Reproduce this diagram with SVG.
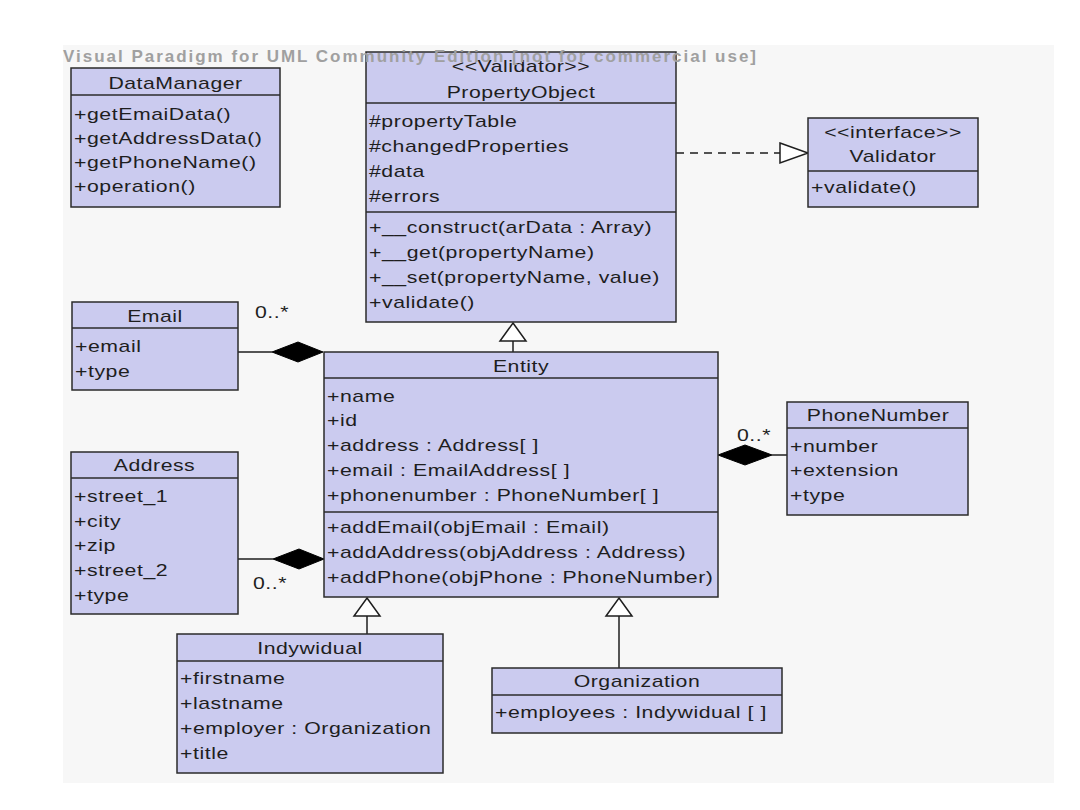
<svg xmlns="http://www.w3.org/2000/svg" width="1080" height="810" viewBox="0 0 1080 810">
<style>
.box{fill:#cbcbef;stroke:#2b2b2b;stroke-width:1.5}
.div{stroke:#2b2b2b;stroke-width:1.5}
text{font-family:"Liberation Sans",Arial,sans-serif;font-size:17px;fill:#1e1e1e;letter-spacing:0.45px}
.t{text-anchor:middle;letter-spacing:0.4px}
.ln{stroke:#1e1e1e;stroke-width:1.5;fill:none}
.gen{fill:#ffffff;stroke:#1e1e1e;stroke-width:1.5}
.dia{fill:#000000;stroke:#000000;stroke-width:1}
.wm{font-weight:bold;fill:#a0a0a0;letter-spacing:1px}
</style>
<rect x="0" y="0" width="1080" height="810" fill="#ffffff"/>
<rect x="63" y="45" width="991" height="738" fill="#f7f7f7"/>

<g id="connectors">
<line class="ln" x1="676" y1="153" x2="780" y2="153" stroke-dasharray="8,6"/>
<polygon class="gen" points="780,143 808,153 780,163"/>
<line class="ln" x1="513" y1="341" x2="513" y2="352"/>
<polygon class="gen" points="513,323 526,341 500,341"/>
<line class="ln" x1="367" y1="616" x2="367" y2="634"/>
<polygon class="gen" points="367,598 380,616 354,616"/>
<line class="ln" x1="619" y1="616" x2="619" y2="668"/>
<polygon class="gen" points="619,598 632,616 606,616"/>
<line class="ln" x1="238" y1="352" x2="272" y2="352"/>
<polygon class="dia" points="323,352 298,342 272,352 298,362"/>
<line class="ln" x1="238" y1="559" x2="273" y2="559"/>
<polygon class="dia" points="324,559 299,549 273,559 299,569"/>
<line class="ln" x1="772" y1="455" x2="787" y2="455"/>
<polygon class="dia" points="718,455 745,445 772,455 745,465"/>
<g transform="scale(1.25,1)">
<text x="204" y="318">0..*</text>
<text x="202.4" y="589">0..*</text>
<text x="589.6" y="441">0..*</text>
</g>
</g>

<g id="DataManager">
<rect class="box" x="71" y="68" width="209" height="139"/>
<line class="div" x1="71" y1="95" x2="280" y2="95"/>
<g transform="scale(1.25,1)">
<text class="t" x="140.4" y="89">DataManager</text>
<text x="59.2" y="120">+getEmaiData()</text>
<text x="59.2" y="144">+getAddressData()</text>
<text x="59.2" y="168">+getPhoneName()</text>
<text x="59.2" y="192">+operation()</text>
</g>
</g>

<g id="PropertyObject">
<rect class="box" x="366" y="52" width="310" height="270"/>
<line class="div" x1="366" y1="103" x2="676" y2="103"/>
<line class="div" x1="366" y1="212" x2="676" y2="212"/>
<g transform="scale(1.25,1)">
<text class="t" x="416.8" y="72">&lt;&lt;Validator&gt;&gt;</text>
<text class="t" x="416.8" y="98">PropertyObject</text>
<text x="295.2" y="127">#propertyTable</text>
<text x="295.2" y="152">#changedProperties</text>
<text x="295.2" y="177">#data</text>
<text x="295.2" y="202">#errors</text>
<text x="295.2" y="233">+__construct(arData : Array)</text>
<text x="295.2" y="258">+__get(propertyName)</text>
<text x="295.2" y="283">+__set(propertyName, value)</text>
<text x="295.2" y="308">+validate()</text>
</g>
</g>

<g id="Validator">
<rect class="box" x="808" y="118" width="170" height="89"/>
<line class="div" x1="808" y1="171" x2="978" y2="171"/>
<g transform="scale(1.25,1)">
<text class="t" x="714.4" y="138">&lt;&lt;interface&gt;&gt;</text>
<text class="t" x="714.4" y="162">Validator</text>
<text x="648.8" y="193">+validate()</text>
</g>
</g>

<g id="Email">
<rect class="box" x="72" y="302" width="166" height="88"/>
<line class="div" x1="72" y1="328" x2="238" y2="328"/>
<g transform="scale(1.25,1)">
<text class="t" x="124" y="322">Email</text>
<text x="60" y="352">+email</text>
<text x="60" y="377">+type</text>
</g>
</g>

<g id="Entity">
<rect class="box" x="324" y="352" width="394" height="245"/>
<line class="div" x1="324" y1="378" x2="718" y2="378"/>
<line class="div" x1="324" y1="512" x2="718" y2="512"/>
<g transform="scale(1.25,1)">
<text class="t" x="416.8" y="372">Entity</text>
<text x="261.6" y="402">+name</text>
<text x="261.6" y="426">+id</text>
<text x="261.6" y="451">+address : Address[ ]</text>
<text x="261.6" y="476">+email : EmailAddress[ ]</text>
<text x="261.6" y="501">+phonenumber : PhoneNumber[ ]</text>
<text x="261.6" y="533">+addEmail(objEmail : Email)</text>
<text x="261.6" y="558">+addAddress(objAddress : Address)</text>
<text x="261.6" y="583">+addPhone(objPhone : PhoneNumber)</text>
</g>
</g>

<g id="Address">
<rect class="box" x="71" y="452" width="167" height="162"/>
<line class="div" x1="71" y1="478" x2="238" y2="478"/>
<g transform="scale(1.25,1)">
<text class="t" x="123.6" y="471">Address</text>
<text x="59.2" y="502">+street_1</text>
<text x="59.2" y="527">+city</text>
<text x="59.2" y="551">+zip</text>
<text x="59.2" y="576">+street_2</text>
<text x="59.2" y="601">+type</text>
</g>
</g>

<g id="PhoneNumber">
<rect class="box" x="787" y="402" width="181" height="113"/>
<line class="div" x1="787" y1="428" x2="968" y2="428"/>
<g transform="scale(1.25,1)">
<text class="t" x="702.4" y="421">PhoneNumber</text>
<text x="632" y="452">+number</text>
<text x="632" y="476">+extension</text>
<text x="632" y="501">+type</text>
</g>
</g>

<g id="Indywidual">
<rect class="box" x="177" y="634" width="266" height="139"/>
<line class="div" x1="177" y1="661" x2="443" y2="661"/>
<g transform="scale(1.25,1)">
<text class="t" x="248" y="654">Indywidual</text>
<text x="144" y="684">+firstname</text>
<text x="144" y="709">+lastname</text>
<text x="144" y="734">+employer : Organization</text>
<text x="144" y="759">+title</text>
</g>
</g>

<g id="Organization">
<rect class="box" x="492" y="668" width="290" height="65"/>
<line class="div" x1="492" y1="695" x2="782" y2="695"/>
<g transform="scale(1.25,1)">
<text class="t" x="509.6" y="687">Organization</text>
<text x="396" y="718">+employees : Indywidual [ ]</text>
</g>
</g>

<text class="wm" x="63" y="62" textLength="694" lengthAdjust="spacing">Visual Paradigm for UML Community Edition [not for commercial use]</text>
</svg>
